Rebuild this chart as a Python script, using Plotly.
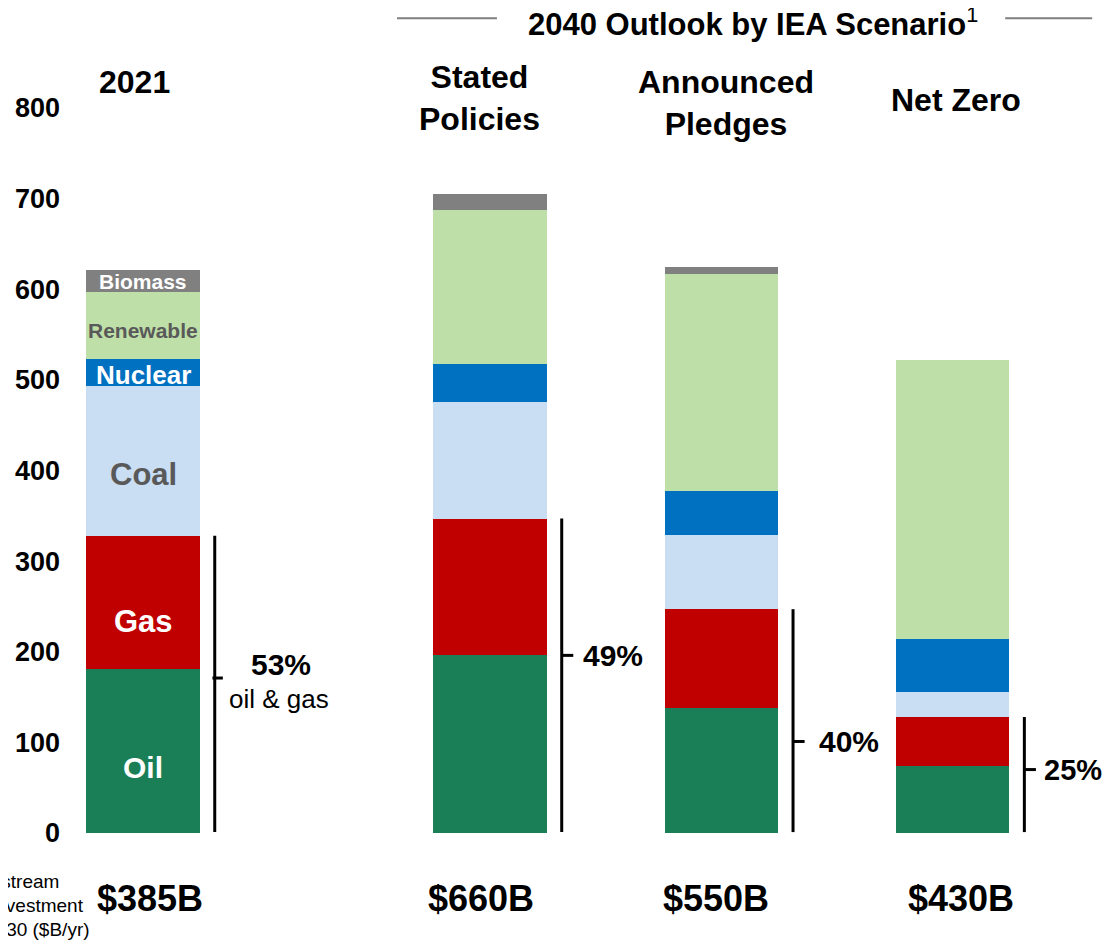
import plotly.graph_objects as go

# ---- data (values in $B) ----
categories = ["2021", "Stated Policies", "Announced Pledges", "Net Zero"]
oil = [181, 196, 138, 74]
gas = [147, 151, 109, 54]
coal = [165, 129, 82, 28]
nuclear = [30, 42, 48, 58]
renewable = [74, 169, 240, 308]
biomass = [24, 18, 8, 0]
investment_labels = ["$385B", "$660B", "$550B", "$430B"]
oil_gas_share = ["53%", "49%", "40%", "25%"]
header_labels = ["2021", "Stated<br>Policies", "Announced<br>Pledges", "Net Zero"]
caption_lines = ["Upstream", "Investment", "2030 ($B/yr)"]
y_ticks = [0, 100, 200, 300, 400, 500, 600, 700, 800]

# ---- layout helpers ----
x_pos = [0, 1.5, 2.5, 3.5]
bar_w = 0.49
X_RANGE = [-0.333, 4.137]
Y_RANGE = [0, 800]
FONT = "Liberation Sans, Arial, sans-serif"


def paper_x(v):
    return (v - X_RANGE[0]) / (X_RANGE[1] - X_RANGE[0])


def paper_y(v):
    return (v - Y_RANGE[0]) / (Y_RANGE[1] - Y_RANGE[0])


series = [
    ("Oil", oil, "#1A7F57"),
    ("Gas", gas, "#C00000"),
    ("Coal", coal, "#C9DDF3"),
    ("Nuclear", nuclear, "#0070C0"),
    ("Renewable", renewable, "#BFDFA8"),
    ("Biomass", biomass, "#808080"),
]

fig = go.Figure()
for name, vals, col in series:
    fig.add_trace(go.Bar(x=x_pos, y=vals, name=name, width=bar_w,
                         marker=dict(color=col, line=dict(width=0)),
                         hoverinfo="name+y"))

annotations = []
shapes = []

# segment labels in the 2021 bar
seg_style = {
    "Oil": dict(color="white", size=30, shift=-17),
    "Gas": dict(color="white", size=31, shift=-19),
    "Coal": dict(color="#595959", size=31, shift=-14),
    "Nuclear": dict(color="white", size=26, shift=-2),
    "Renewable": dict(color="#595959", size=21, shift=-5),
    "Biomass": dict(color="white", size=21, shift=0),
}
base = 0
for name, vals, col in series:
    v = vals[0]
    st = seg_style[name]
    annotations.append(dict(x=x_pos[0], y=base + v / 2, xref="x", yref="y",
                            text=f"<b>{name}</b>", showarrow=False,
                            yshift=st["shift"],
                            font=dict(family=FONT, size=st["size"], color=st["color"])))
    base += v

# headers above bars
header_y = [829, 811, 806, 809]
header_dx = [-0.035, -0.045, 0.02, 0.013]
for i, h in enumerate(header_labels):
    annotations.append(dict(x=paper_x(x_pos[i] + header_dx[i]), y=paper_y(header_y[i]),
                            xref="paper", yref="paper", xanchor="center", yanchor="middle",
                            text=f"<b>{h}</b>", showarrow=False,
                            font=dict(family=FONT, size=32, color="black")))

# investment labels below bars
inv_dx = [0.03, -0.04, -0.025, 0.035]
for i, t in enumerate(investment_labels):
    annotations.append(dict(x=paper_x(x_pos[i] + inv_dx[i]), y=paper_y(-72),
                            xref="paper", yref="paper", xanchor="center", yanchor="middle",
                            text=f"<b>{t}</b>", showarrow=False,
                            font=dict(family=FONT, size=36, color="black")))

# left investment caption (partly cut off at the page edge, as in the original)
caption_x = [-0.046, -0.028, -0.028]
caption_y = [-54, -80, -106]
for i, line in enumerate(caption_lines):
    annotations.append(dict(x=caption_x[i], y=paper_y(caption_y[i]), xref="paper", yref="paper",
                            xanchor="center", yanchor="middle",
                            text=line, showarrow=False,
                            font=dict(family=FONT, size=19, color="black")))

# oil & gas brackets
bracket_off = 0.31
tick_levels = [171, 196, 101, 70]
label_dx = [0, 0.085, 0.105, 0.075]
label_size = [30, 30, 30, 29]
for i in range(len(categories)):
    xb = x_pos[i] + bracket_off
    top = oil[i] + gas[i]
    shapes.append(dict(type="line", xref="x", yref="y", x0=xb, x1=xb, y0=1, y1=top,
                       line=dict(color="black", width=3)))
    if i == 0:
        shapes.append(dict(type="line", xref="x", yref="y", x0=xb - 0.01, x1=xb + 0.035,
                           y0=tick_levels[i], y1=tick_levels[i],
                           line=dict(color="black", width=3)))
        annotations.append(dict(x=xb + 0.285, y=tick_levels[i], xref="x", yref="y",
                                text=f"<b>{oil_gas_share[i]}</b>", showarrow=False,
                                yshift=14,
                                font=dict(family=FONT, size=30, color="black")))
        annotations.append(dict(x=xb + 0.277, y=tick_levels[i], xref="x", yref="y",
                                text="oil & gas", showarrow=False, yshift=-21,
                                font=dict(family=FONT, size=26, color="black")))
    else:
        shapes.append(dict(type="line", xref="x", yref="y", x0=xb, x1=xb + 0.05,
                           y0=tick_levels[i], y1=tick_levels[i],
                           line=dict(color="black", width=3)))
        annotations.append(dict(x=xb + label_dx[i], y=tick_levels[i], xref="x", yref="y",
                                text=f"<b>{oil_gas_share[i]}</b>", showarrow=False,
                                xanchor="left",
                                font=dict(family=FONT, size=label_size[i], color="black")))

# section title with side rules
annotations.append(dict(x=paper_x(2.635), y=paper_y(895), xref="paper", yref="paper",
                        xanchor="center", yanchor="middle",
                        text="<b>2040 Outlook by IEA Scenario</b><sup>1</sup>",
                        showarrow=False,
                        font=dict(family=FONT, size=31, color="black")))
for x0, x1 in [(1.098, 1.530), (3.727, 4.103)]:
    shapes.append(dict(type="line", xref="paper", yref="paper",
                       x0=paper_x(x0), x1=paper_x(x1),
                       y0=paper_y(899), y1=paper_y(899),
                       line=dict(color="#7F7F7F", width=2)))

# page body has an 8px margin, so the figure is drawn 8px in from the window edge
fig.update_layout(
    barmode="stack",
    width=1103, height=937,
    margin=dict(l=58, r=11, t=100, b=112, autoexpand=False),
    paper_bgcolor="white", plot_bgcolor="white",
    showlegend=False,
    bargap=0,
    annotations=annotations,
    shapes=shapes,
    xaxis=dict(range=X_RANGE, visible=False, fixedrange=True),
    yaxis=dict(range=Y_RANGE, tickvals=y_ticks, ticktext=[f"<b>{v}</b>" for v in y_ticks],
               showgrid=False, zeroline=False, showline=False, ticks="",
               ticklabelstandoff=5,
               tickfont=dict(family=FONT, size=27, color="black"), fixedrange=True),
    font=dict(family=FONT),
)

fig.write_html("out.html")
